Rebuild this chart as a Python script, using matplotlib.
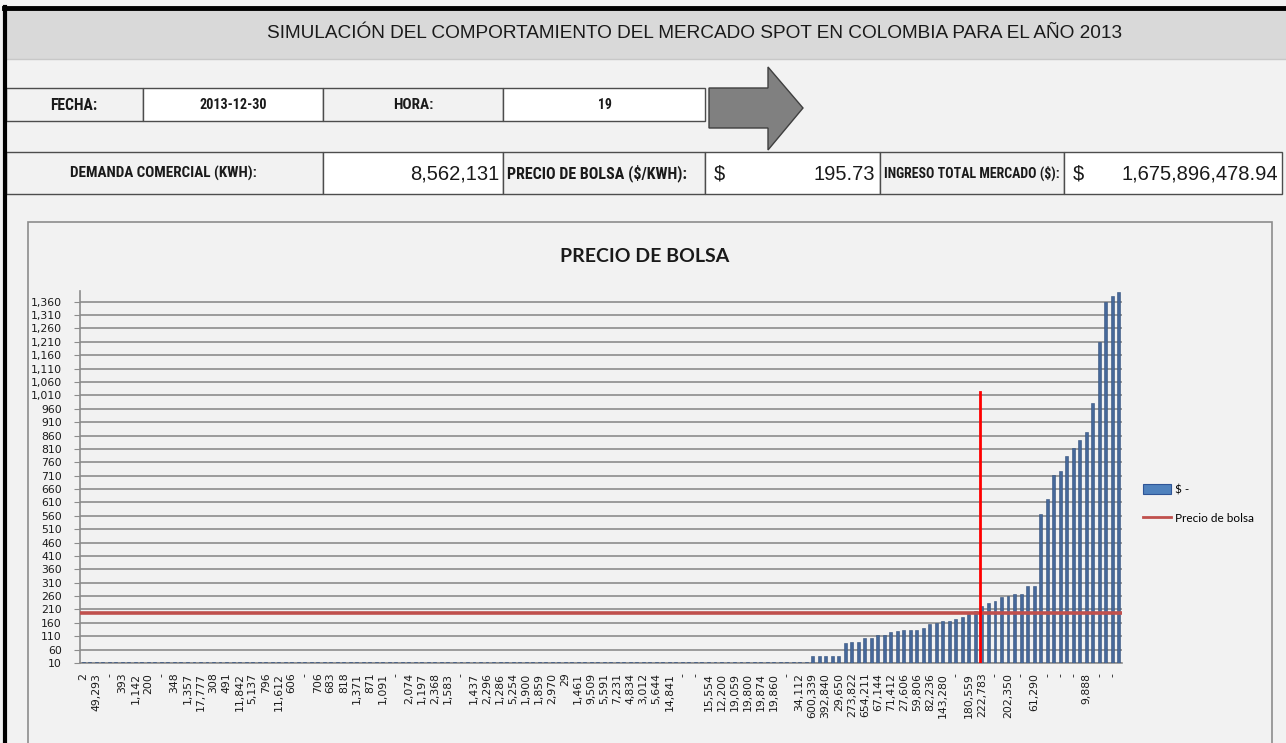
import numpy as np
import matplotlib.pyplot as plt
from matplotlib import font_manager
from matplotlib.patches import Rectangle, Polygon, Patch
from matplotlib.lines import Line2D

titulo = "SIMULACIÓN DEL COMPORTAMIENTO DEL MERCADO SPOT EN COLOMBIA PARA EL AÑO 2013"
fecha = "2013-12-30"
hora = "19"
demanda = 8562131
precio_bolsa = 195.73
ingreso_total = 1675896478.94

# etiquetas visibles del eje x (Excel muestra una de cada dos)
etiquetas = ["2", "49,293", "-", "393", "1,142", "200", "-", "348", "1,357", "17,777",
             "308", "491", "11,842", "5,137", "796", "11,612", "606", "-", "706", "683",
             "818", "1,371", "871", "1,091", "-", "2,074", "1,197", "2,368", "1,583", "-",
             "1,437", "2,296", "1,286", "5,254", "1,900", "1,859", "2,970", "29", "1,461", "9,509",
             "5,591", "7,231", "4,834", "3,012", "5,644", "14,841", "-", "-", "15,554", "12,200",
             "19,059", "19,800", "19,874", "19,860", "-", "34,112", "600,339", "392,840", "29,650", "273,822",
             "654,211", "67,144", "71,412", "27,606", "59,806", "82,236", "143,280", "-", "180,559", "222,783",
             "-", "202,350", "-", "61,290", "-", "-", "-", "9,888", "-", "-"]

# precio de oferta por planta ($/kWh), ordenado
precios = [12, 12, 12, 12, 12, 12, 12, 12, 12, 12, 12, 12, 12, 12,
           12, 12, 12, 12, 12, 12, 12, 12, 12, 12, 12, 12, 12, 12,
           12, 12, 12, 12, 12, 12, 12, 12, 12, 12, 12, 12, 12, 12,
           12, 12, 12, 12, 12, 12, 12, 12, 12, 12, 12, 12, 12, 12,
           12, 12, 12, 12, 12, 12, 12, 12, 12, 12, 12, 12, 12, 12,
           12, 12, 12, 12, 12, 12, 12, 12, 12, 12, 12, 12, 12, 12,
           12, 12, 12, 12, 12, 12, 12, 12, 12, 12, 12, 12, 12, 12,
           12, 12, 12, 12, 12, 12, 12, 12, 12, 12, 12, 12, 12, 12,
           38, 38, 38, 38, 38, 84, 88, 88, 105, 105,
           114, 114, 124, 129, 134, 134, 134, 139, 155, 159,
           168, 168, 173, 183, 192, 204, 224, 234, 243, 255,
           262, 269, 269, 298, 298, 565, 621, 712, 728, 783,
           812, 843, 873, 983, 1208, 1360, 1382, 1397]

corte_demanda = 137.65   # posicion de la demanda en el eje de categorias
corte_alto = 1024

nombres = {f.name for f in font_manager.fontManager.ttflist}
angosta = 'Roboto'
for n in ['Liberation Sans Narrow', 'Roboto Condensed', 'Open Sans Condensed']:
    if n in nombres:
        angosta = n
        break
arial = 'Liberation Sans'

W, H = 1286, 743
fig = plt.figure(figsize=(W / 100, H / 100), dpi=100)
fig.patch.set_facecolor('#F2F2F2')
r = fig.canvas.get_renderer()

# hoja de calculo en pixeles
hoja = fig.add_axes([0, 0, 1, 1])
hoja.set_xlim(0, W)
hoja.set_ylim(H, 0)
hoja.axis('off')

hoja.add_patch(Rectangle((5, 9), W, 50, facecolor='#D9D9D9', edgecolor='none'))
hoja.plot([5, W], [59, 59], color='#C8C8C8', lw=1)
hoja.plot([4, W], [7.5, 7.5], color='black', lw=3.5)
hoja.plot([5, 5], [7, H], color='black', lw=3)
hoja.text(695, 34, titulo, ha='center', va='center', fontsize=13.7, family=arial, color='#1a1a1a')


def celda(x0, x1, y0, y1, color):
    hoja.add_patch(Rectangle((x0, y0), x1 - x0, y1 - y0, facecolor=color,
                             edgecolor='#4D4D4D', lw=1))


def etiqueta(x, y, texto, ancho, ha='center'):
    t = hoja.text(x, y, texto, ha=ha, va='center', fontsize=10, fontweight='bold',
                  family=angosta, color='#1a1a1a')
    w = t.get_window_extent(renderer=r).width
    t.set_fontsize(min(11.5, 10 * ancho / w))


def valor(x, y, texto, ha='right'):
    hoja.text(x, y, texto, ha=ha, va='center', fontsize=14.5, family=arial, color='#1a1a1a')


# fila fecha / hora
celda(6, 143, 88, 121, '#F2F2F2')
celda(143, 323, 88, 121, 'white')
celda(323, 503, 88, 121, '#F2F2F2')
celda(503, 705, 88, 121, 'white')
etiqueta(74, 105, "FECHA:", 47)
etiqueta(233, 105, fecha, 68)
etiqueta(413, 105, "HORA:", 40)
etiqueta(605, 105, hora, 14)

# flecha
hoja.add_patch(Polygon([(709, 88), (768, 88), (768, 67), (803, 108), (768, 150), (768, 128), (709, 128)],
                       closed=True, facecolor='#808080', edgecolor='#3F3F3F', lw=1))

# fila demanda / precio / ingreso
celda(6, 323, 152, 194, '#F2F2F2')
celda(323, 503, 152, 194, 'white')
celda(503, 705, 152, 194, '#F2F2F2')
celda(705, 880, 152, 194, 'white')
celda(880, 1064, 152, 194, '#F2F2F2')
celda(1064, 1282, 152, 194, 'white')
etiqueta(163, 173, "DEMANDA COMERCIAL (KWH):", 187)
valor(499, 174, f"{demanda:,}")
etiqueta(507, 173, "PRECIO DE BOLSA ($/KWH):", 192, ha='left')
valor(714, 174, "$", ha='left')
valor(875, 174, f"{precio_bolsa:,.2f}")
etiqueta(884, 173, "INGRESO TOTAL MERCADO ($):", 175, ha='left')
valor(1073, 174, "$", ha='left')
valor(1278, 174, f"{ingreso_total:,.2f}")

# marco del grafico
hoja.add_patch(Rectangle((28, 222), 1244, 540, facecolor='#F2F2F2', edgecolor='#8C8C8C', lw=1.2))
hoja.text(645, 257, "PRECIO DE BOLSA", ha='center', va='center', fontsize=14,
          fontweight='bold', family='Lato', color='#1a1a1a')

# grafico de barras
ax = fig.add_axes([80 / W, 1 - 663 / H, (1122 - 80) / W, (663 - 291) / H])
ax.set_facecolor('none')
x = np.arange(len(precios))
ax.bar(x, precios, width=0.45, color='#46689A', edgecolor='#34527C', lw=0.4, zorder=3)
ax.plot([-0.5, len(precios) - 0.5], [precio_bolsa, precio_bolsa], color='#C0504D', lw=2.6, zorder=4)
ax.plot([corte_demanda, corte_demanda], [10, corte_alto], color='#FF0000', lw=2, zorder=5)

ax.set_xlim(-0.5, len(precios) - 0.5)
ax.set_ylim(10, 1400)
ax.set_yticks(np.arange(10, 1361, 50))
ax.yaxis.set_major_formatter(lambda v, p: f"{v:,.0f}")
ax.set_xticks(x[::2])
ax.set_xticklabels(etiquetas, rotation=90)
ax.grid(axis='y', color='#8C8C8C', lw=1.2)
ax.set_axisbelow(True)
for s in ['top', 'right']:
    ax.spines[s].set_visible(False)
for s in ['left', 'bottom']:
    ax.spines[s].set_color('#8C8C8C')
    ax.spines[s].set_linewidth(1.2)
ax.tick_params(axis='y', length=4, color='#8C8C8C', pad=9, labelsize=7.8, labelcolor='#1a1a1a')
ax.tick_params(axis='x', length=0, pad=7, labelsize=7.8, labelcolor='#1a1a1a')

manejadores = [Patch(facecolor='#4F81BD', edgecolor='#2F5597', lw=0.8),
               Line2D([0], [0], color='#C0504D', lw=2)]
fig.legend(manejadores, ["$ -", "Precio de bolsa"], loc='upper left',
           bbox_to_anchor=(1143 / W, 1 - 484 / H), frameon=False, borderpad=0,
           borderaxespad=0, handlelength=2.4, handleheight=0.95, handletextpad=0.35,
           labelspacing=1.5, prop={'family': 'Lato', 'size': 8.5})

fig.savefig('out.png', dpi=100, facecolor=fig.get_facecolor())
